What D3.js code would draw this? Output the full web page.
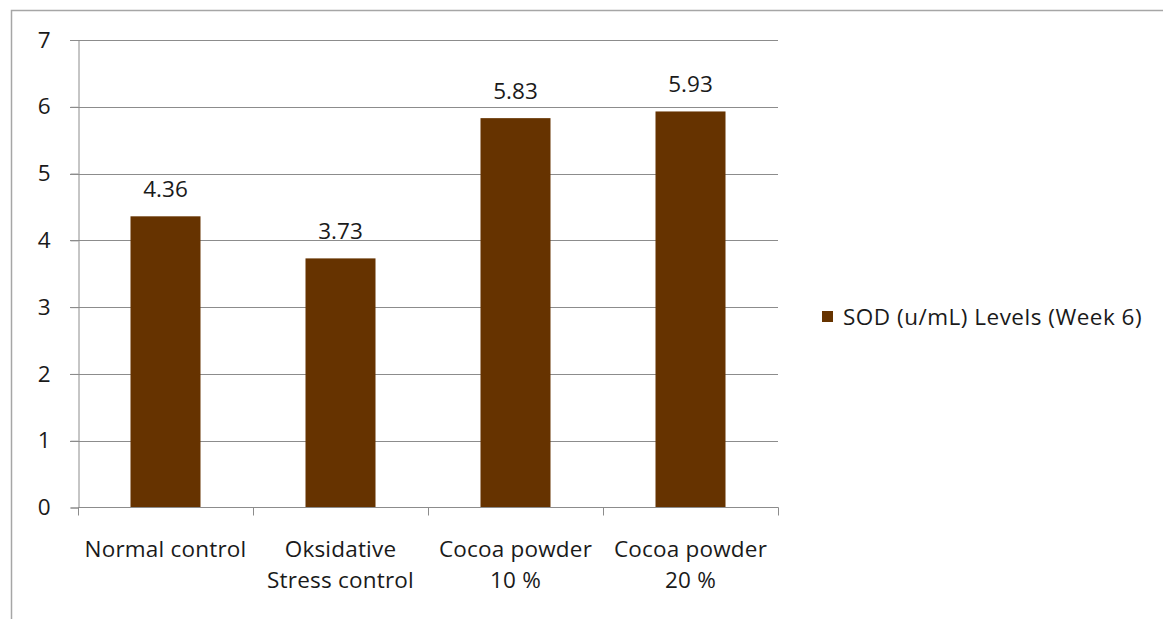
<!DOCTYPE html>
<html><head><meta charset="utf-8">
<script src="https://cdn.jsdelivr.net/npm/d3@7"></script>
<style>body{margin:0;background:#fff}text{font-family:"Open Sans",sans-serif;fill:#1a1a1a}</style>
</head><body>
<svg id="c" width="1163" height="619"></svg>
<script>
const categories = [["Normal control"], ["Oksidative", "Stress control"], ["Cocoa powder", "10 %"], ["Cocoa powder", "20 %"]];
const values = [4.36, 3.73, 5.83, 5.93];
const yTicks = [0, 1, 2, 3, 4, 5, 6, 7];
const seriesName = "SOD (u/mL) Levels (Week 6)";

const FS = 22.5;
const svg = d3.select("#c");
const color = "#663300";
const grid = "#8c8c8c";
// outer frame
svg.append("path").attr("d", "M11.5,619 V10.5 H1163").attr("fill", "none").attr("stroke", "#a6a6a6").attr("stroke-width", 1.5);

const x = d3.scaleBand().domain(d3.range(categories.length)).range([78, 778]).paddingInner(0.6).paddingOuter(0.3);
const y = d3.scaleLinear().domain([0, 7]).range([507.5, 40]);

// gridlines
svg.append("g").selectAll("line").data(yTicks.filter(d => d > 0)).join("line")
  .attr("x1", 70).attr("x2", 778).attr("y1", d => Math.round(y(d)) + 0.5).attr("y2", d => Math.round(y(d)) + 0.5)
  .attr("stroke", grid).attr("stroke-width", 1);

// y axis
const ya = svg.append("g").attr("transform", "translate(78.5,0)")
  .call(d3.axisLeft(y).tickValues(yTicks).tickSize(8).tickPadding(20).tickFormat(d3.format("d")));
ya.select(".domain").attr("stroke", grid);
ya.selectAll(".tick line").attr("stroke", grid);
ya.selectAll(".tick text").attr("font-size", FS).attr("font-family", "Open Sans").attr("fill", "#1a1a1a");

// bars
svg.append("g").selectAll("rect").data(values).join("rect")
  .attr("x", (d, i) => x(i)).attr("width", x.bandwidth())
  .attr("y", d => y(d)).attr("height", d => y(0) - y(d)).attr("fill", color);

// x axis
const xa = svg.append("g").attr("transform", "translate(0,507.5)");
xa.append("line").attr("x1", 78).attr("x2", 778.5).attr("stroke", grid);
xa.selectAll("line.t").data(d3.range(categories.length + 1)).join("line").attr("class", "t")
  .attr("x1", i => x.range()[0] + i * x.step() + 0.5).attr("x2", i => x.range()[0] + i * x.step() + 0.5)
  .attr("y1", 0).attr("y2", 8).attr("stroke", grid);

// category labels
const cl = svg.append("g").selectAll("text").data(categories).join("text")
  .attr("text-anchor", "middle").attr("font-size", FS).attr("letter-spacing", 0.2)
  .attr("x", (d, i) => x(i) + x.bandwidth() / 2).attr("y", 557);
cl.selectAll("tspan").data(d => d).join("tspan")
  .attr("x", function () { return d3.select(this.parentNode).attr("x"); })
  .attr("dy", (d, j) => j === 0 ? 0 : 31).text(d => d);

// data labels
svg.append("g").selectAll("text").data(values).join("text")
  .attr("text-anchor", "middle").attr("font-size", FS)
  .attr("x", (d, i) => x(i) + x.bandwidth() / 2).attr("y", d => y(d) - 19)
  .text(d => d.toFixed(2));

// legend
const lg = svg.append("g").attr("transform", "translate(822,311)");
lg.append("rect").attr("width", 11).attr("height", 11).attr("fill", color);
lg.append("text").attr("x", 21).attr("y", 14).attr("font-size", FS).attr("letter-spacing", 0.5).text(seriesName);
</script>
</body></html>
